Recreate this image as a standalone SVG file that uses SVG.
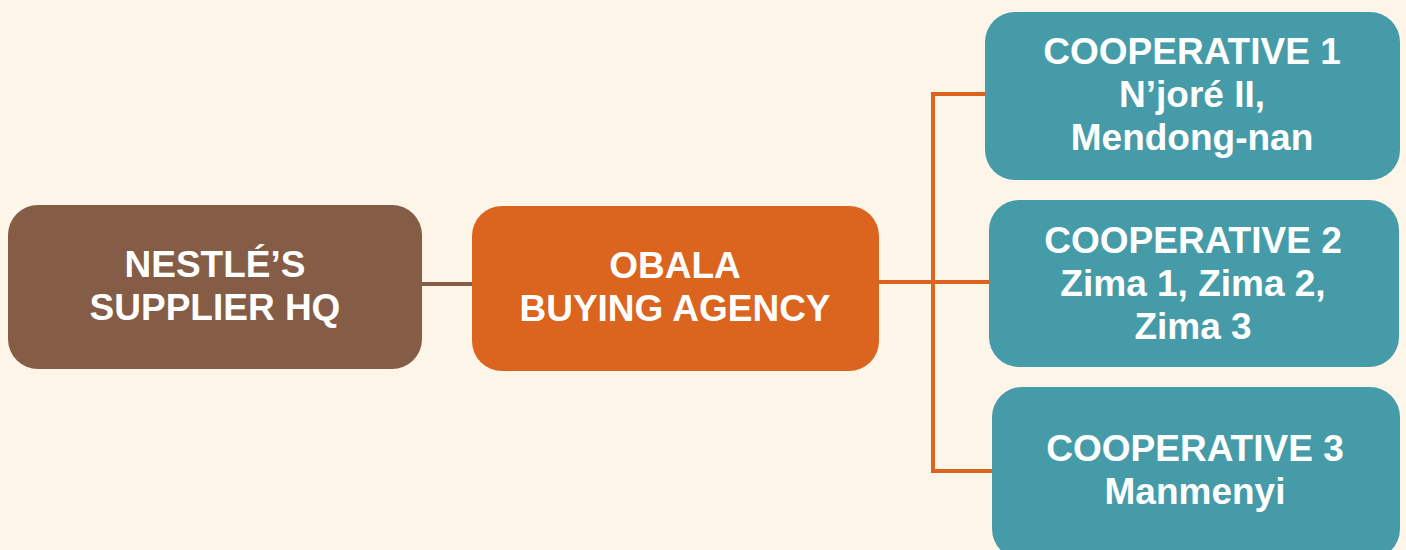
<svg xmlns="http://www.w3.org/2000/svg" width="1406" height="550" viewBox="0 0 1406 550">
<style>
.lbl{font-family:"Liberation Sans",Arial,sans-serif;font-weight:bold;font-size:37px;fill:#ffffff;text-anchor:middle}
.brown{fill:#855C46}
.orange{fill:#DB641E}
.teal{fill:#459CA8}
</style>
<rect width="1406" height="550" fill="#FDF5E8"/>
<g id="connectors" fill="none" stroke-width="4">
<line x1="420" y1="284" x2="474" y2="284" stroke="#855C46"/>
<path d="M877 282 H991 M987 94 H933 V471 H994" stroke="#DB641E"/>
</g>
<g id="node-hq">
<rect class="brown" x="8" y="205" width="414" height="164" rx="30"/>
<text class="lbl" x="215" y="277">NESTLÉ’S</text>
<text class="lbl" x="215" y="320">SUPPLIER HQ</text>
</g>
<g id="node-obala">
<rect class="orange" x="472" y="206" width="407" height="165" rx="30"/>
<text class="lbl" x="675" y="278">OBALA</text>
<text class="lbl" x="675" y="321">BUYING AGENCY</text>
</g>
<g id="node-coop1">
<rect class="teal" x="985" y="12" width="415" height="168" rx="30"/>
<text class="lbl" x="1192" y="64">COOPERATIVE 1</text>
<text class="lbl" x="1192" y="107">N’joré II,</text>
<text class="lbl" x="1192" y="150">Mendong-nan</text>
</g>
<g id="node-coop2">
<rect class="teal" x="989" y="200" width="410" height="167" rx="30"/>
<text class="lbl" x="1193" y="253">COOPERATIVE 2</text>
<text class="lbl" x="1193" y="296">Zima 1, Zima 2,</text>
<text class="lbl" x="1193" y="339">Zima 3</text>
</g>
<g id="node-coop3">
<rect class="teal" x="992" y="387" width="408" height="172" rx="30"/>
<text class="lbl" x="1195" y="461">COOPERATIVE 3</text>
<text class="lbl" x="1195" y="504">Manmenyi</text>
</g>
</svg>
